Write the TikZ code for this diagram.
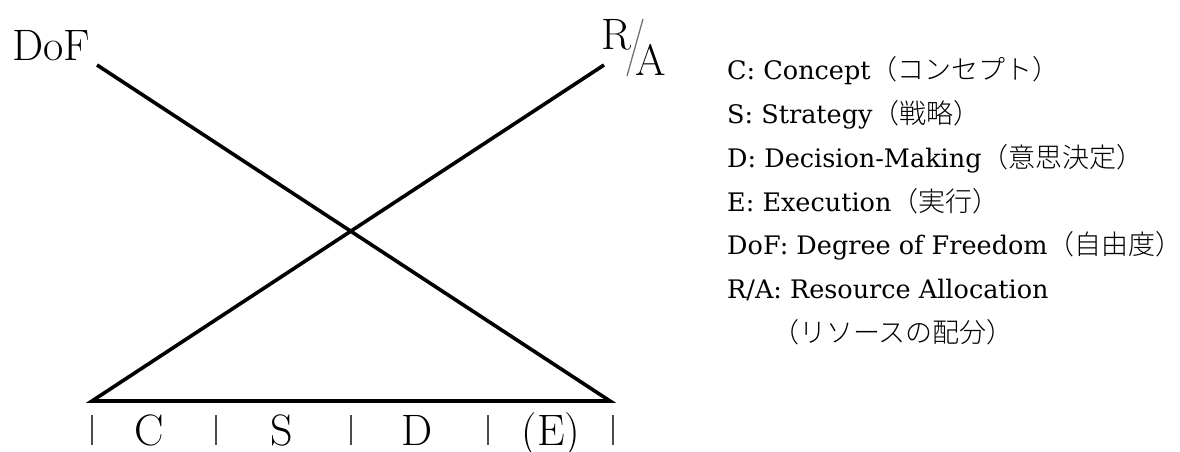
\documentclass[tikz,border=0pt]{standalone}
\usepackage{fontspec}
\newfontfamily\jp{Noto Sans CJK JP Light}
\newfontfamily\lgfont{DejaVu Serif}
\begin{document}
\begin{tikzpicture}[x=1pt,y=-1pt,
  frame/.style={line width=3.6pt,line join=miter,black},
  tickmark/.style={line width=1.3pt,black!70},
  slashline/.style={line width=1.3pt,black!55},
  big/.style={inner sep=0pt,font=\fontsize{44}{52}\selectfont},
  legend/.style={inner sep=0pt,anchor=base west,font=\lgfont\fontsize{25.5}{32}\selectfont}]
\fill[white] (0,0) rectangle (1180,452);
\useasboundingbox (0,0) rectangle (1180,452);
% main shape
\coordinate (dofend) at (97,65);
\coordinate (raend) at (604,65);
\coordinate (bl) at (92,401);
\coordinate (br) at (610,401);
\draw[frame] (dofend) -- (br) -- (bl) -- (raend);
% labels at the top
\node[big,anchor=base west] (dof) at (12,61) {DoF};
\node[big,anchor=base west] (rr) at (601,50) {R};
\node[big,anchor=base west] (aa) at (635,75) {A};
\coordinate (s1) at (643,19);
\coordinate (s2) at (627,76);
\draw[slashline] (s1) -- (s2);
% ticks and stage letters
\foreach \x [count=\i] in {92,216,351,488,613} {
  \coordinate (t\i a) at (\x,415);
  \coordinate (t\i b) at (\x,445);
  \draw[tickmark] (t\i a) -- (t\i b);
}
\node[big,anchor=base] (lc) at (149,445) {C};
\node[big,anchor=base] (ls) at (282,445) {S};
\node[big,anchor=base] (ld) at (417,445) {D};
\node[big,anchor=base] (le) at (551,445) {(E)};
% legend
\newcommand\jpt[1]{{\jp\fontsize{27}{33}\selectfont #1}}
\node[legend] (g1) at (727,80) {C: Concept\jpt{（コンセプト）}};
\node[legend] (g2) at (727,123.7) {S: Strategy\jpt{（戦略）}};
\node[legend] (g3) at (727,167.4) {D: Decision-Making\jpt{（意思決定）}};
\node[legend] (g4) at (727,211.1) {E: Execution\jpt{（実行）}};
\node[legend] (g5) at (727,254.8) {DoF: Degree of Freedom\jpt{（自由度）}};
\node[legend] (g6) at (727,298.5) {R/A: Resource Allocation};
\node[legend] (g7) at (772,342.2) {\jpt{（リソースの配分）}};
\end{tikzpicture}
\end{document}
